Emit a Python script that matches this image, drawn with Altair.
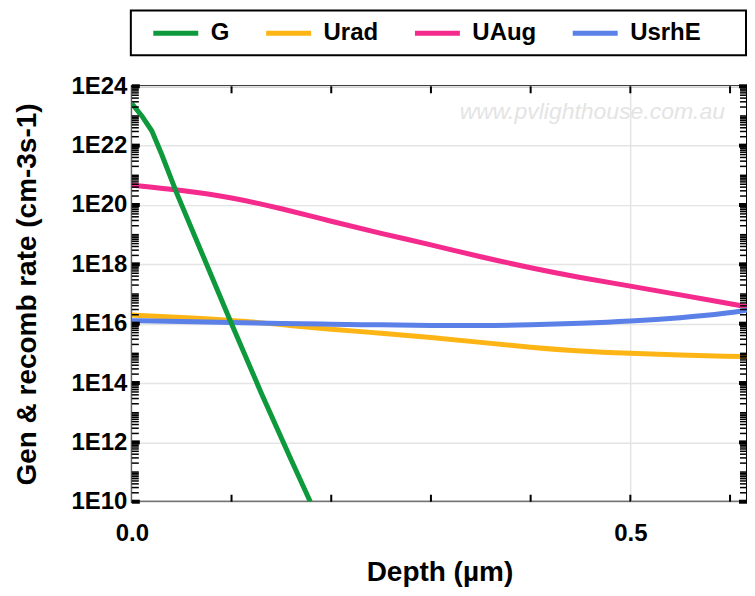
import altair as alt
import pandas as pd

# ---- data (log10 of rate in cm-3 s-1) ----
depth_G = [0.0, 0.01, 0.02, 0.03, 0.045, 0.07, 0.1, 0.13, 0.16, 0.179]
log_G = [23.42, 23.0, 22.5, 21.7, 20.4, 18.4, 16.0, 13.65, 11.4, 10.0]

depth_U = [0.0, 0.05, 0.1, 0.15, 0.2, 0.25, 0.3, 0.35, 0.4, 0.45, 0.5, 0.55, 0.6, 0.617]
log_Urad = [16.29, 16.21, 16.12, 15.97, 15.81, 15.68, 15.54, 15.37, 15.20, 15.07, 15.0, 14.94, 14.90, 14.89]
log_UAug = [20.67, 20.50, 20.26, 19.88, 19.45, 19.04, 18.66, 18.25, 17.88, 17.55, 17.27, 16.97, 16.67, 16.57]
log_UsrhE = [16.10, 16.07, 16.04, 16.01, 15.98, 15.96, 15.94, 15.93, 15.96, 16.01, 16.08, 16.19, 16.36, 16.46]

series = ["G", "Urad", "UAug", "UsrhE"]
colors = ["#0E9A3C", "#FDB515", "#F42A8C", "#5B80E8"]

y_label_exps = [10, 12, 14, 16, 18, 20, 22, 24]
x_label_vals = [0.0, 0.5]
x_tick_vals = [0.1, 0.2, 0.3, 0.4, 0.5, 0.6]

X_MAX = 0.617
W, H = 616, 416
FONT = "Liberation Sans"

rows_g = [{"depth": d, "rate": 10 ** v, "series": "G"} for d, v in zip(depth_G, log_G)]
rows_u = []
for name, vals in (("Urad", log_Urad), ("UAug", log_UAug), ("UsrhE", log_UsrhE)):
    for d, v in zip(depth_U, vals):
        rows_u.append({"depth": d, "rate": 10 ** v, "series": name})
df_g = pd.DataFrame(rows_g)
df_u = pd.DataFrame(rows_u)

major_ticks = pd.DataFrame({"v": [10.0 ** e for e in y_label_exps]})
minor_ticks = pd.DataFrame({"v": [k * 10.0 ** d for d in range(10, 24) for k in range(1, 10)
                                  if not (k == 1 and d % 2 == 0)]})
xt = pd.DataFrame({"x": x_tick_vals})

xscale = alt.Scale(domain=[0, X_MAX], nice=False, zero=False)
yscale = alt.Scale(type="log", domain=[1e10, 1e24], nice=False)

x_enc = alt.X("depth:Q", scale=xscale,
              axis=alt.Axis(title="Depth (µm)", values=x_label_vals, format=".1f",
                            grid=True, gridColor="#e4e4e4", gridWidth=1.5, labelFlush=False,
                            labelPadding=20, titlePadding=13))
y_enc = alt.Y("rate:Q", scale=yscale,
              axis=alt.Axis(title="Gen & recomb rate (cm-3s-1)", values=[10.0 ** e for e in y_label_exps],
                            labelExpr="'1E' + format(round(log(datum.value)/LN10), 'd')",
                            grid=True, gridColor="#e4e4e4", gridWidth=1.5,
                            labelPadding=5, titlePadding=29))
c_enc = alt.Color("series:N", scale=alt.Scale(domain=series, range=colors),
                  legend=alt.Legend(orient="none", legendX=19, legendY=-78, direction="horizontal",
                                    title=None, symbolType="stroke", symbolStrokeWidth=5,
                                    symbolSize=2025, labelFont=FONT, labelFontSize=24,
                                    labelFontWeight="bold", labelColor="black",
                                    columnPadding=26, labelOffset=10, padding=0))

line_g = alt.Chart(df_g).mark_line(strokeWidth=5, interpolate="linear", clip=True).encode(
    x=x_enc, y=y_enc, color=c_enc)
line_u = alt.Chart(df_u).mark_line(strokeWidth=5, interpolate="basis", clip=True).encode(
    x=x_enc, y=y_enc, color=c_enc, detail="series:N")

legend_box = alt.Chart(pd.DataFrame({"a": [0]})).mark_rect(
    fill="white", stroke="black", strokeWidth=2).encode(
    x=alt.value(-1), x2=alt.value(W - 1), y=alt.value(-76), y2=alt.value(-31))

def yticks(data, x0, x1, width):
    return alt.Chart(data).mark_rule(color="black", strokeWidth=width).encode(
        y=alt.Y("v:Q", scale=yscale), x=alt.value(x0), x2=alt.value(x1))

def xticks(y0, y1):
    return alt.Chart(xt).mark_rule(color="black", strokeWidth=2).encode(
        x=alt.X("x:Q", scale=xscale), y=alt.value(y0), y2=alt.value(y1))

watermark = alt.Chart(pd.DataFrame({"t": ["www.pvlighthouse.com.au"]})).mark_text(
    font=FONT, fontSize=23, fontStyle="italic", color="#e4e4e4", align="right", baseline="middle"
).encode(text="t:N", x=alt.value(594), y=alt.value(26))

chart = alt.layer(
    legend_box,
    watermark,
    line_u,
    line_g,
    yticks(minor_ticks, 0, 7, 1.5),
    yticks(major_ticks, 0, 8, 4),
    yticks(minor_ticks, W, W - 7, 1.5),
    yticks(major_ticks, W, W - 8, 4),
    xticks(H, H - 7),
    xticks(0, 7),
).properties(
    width=W, height=H,
    autosize=alt.AutoSizeParams(type="none"),
    padding={"left": 124, "top": 78, "right": 0, "bottom": 86},
).configure_view(
    stroke="black", strokeWidth=2
).configure_axis(
    domain=False, ticks=False,
    labelFont=FONT, labelFontSize=24, labelFontWeight="bold", labelColor="black",
    titleFont=FONT, titleFontSize=28, titleFontWeight="bold", titleColor="black",
)

chart.save("out.html", embed_options={"renderer": "svg", "actions": False})
